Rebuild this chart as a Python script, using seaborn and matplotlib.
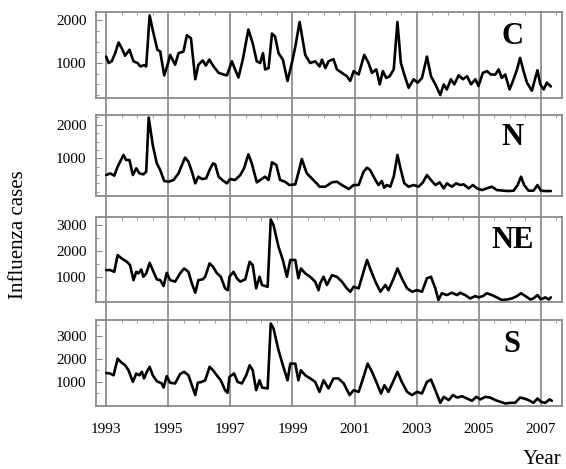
import matplotlib.pyplot as plt
import matplotlib.transforms as mtransforms
from matplotlib.lines import Line2D
from matplotlib.ticker import MultipleLocator
import pandas as pd
import seaborn as sns

# values (decimal year, cases)
c_year = [1993.00, 1993.08, 1993.18, 1993.29, 1993.40, 1993.50, 1993.61, 1993.75, 1993.88, 1994.01,
          1994.10, 1994.22, 1994.29, 1994.40, 1994.50, 1994.65, 1994.74, 1994.87, 1994.98, 1995.06,
          1995.22, 1995.33, 1995.49, 1995.60, 1995.73, 1995.87, 1995.97, 1996.11, 1996.21, 1996.32,
          1996.46, 1996.62, 1996.78, 1996.89, 1997.05, 1997.15, 1997.26, 1997.40, 1997.58, 1997.72,
          1997.85, 1997.96, 1998.05, 1998.12, 1998.23, 1998.34, 1998.44, 1998.55, 1998.69, 1998.84,
          1998.98, 1999.09, 1999.23, 1999.41, 1999.57, 1999.73, 1999.87,
          1999.95, 2000.06, 2000.16, 2000.32, 2000.43, 2000.59, 2000.75, 2000.86, 2000.97, 2001.13,
          2001.31, 2001.45, 2001.56, 2001.70, 2001.81, 2001.91, 2002.02, 2002.13, 2002.26, 2002.38,
          2002.49, 2002.60, 2002.74, 2002.90, 2003.03, 2003.17, 2003.33, 2003.46, 2003.60, 2003.76,
          2003.87, 2003.97, 2004.10, 2004.21, 2004.35, 2004.49, 2004.62, 2004.75, 2004.89, 2004.99,
          2005.13, 2005.26, 2005.39, 2005.53, 2005.64, 2005.74, 2005.85, 2005.99, 2006.12, 2006.23,
          2006.33, 2006.44, 2006.55, 2006.71, 2006.82, 2006.89, 2006.98, 2007.09, 2007.19, 2007.32]
c_cases = [1150, 1000, 1040, 1230, 1480, 1350, 1170, 1310, 1040, 1000,
           920, 950, 920, 2115, 1770, 1310, 1270, 710, 960, 1190,
           960, 1230, 1270, 1650, 1580, 620, 960, 1060, 940, 1080,
           920, 770, 730, 710, 1040, 850, 660, 1080, 1785, 1460,
           1040, 1000, 1230, 850, 880, 1690, 1620, 1230, 1080, 580,
           1000, 1380, 1960, 1190, 1000, 1040, 920,
           1080, 880, 1040, 1090, 850, 770, 690, 580, 810, 730,
           1190, 1000, 770, 850, 500, 810, 650, 690, 850, 1960,
           1000, 730, 420, 620, 540, 650, 1150, 690, 500, 250,
           500, 380, 620, 500, 710, 620, 690, 500, 620, 460,
           770, 810, 730, 730, 850, 650, 730, 380, 620, 850,
           1120, 810, 540, 350, 650, 830, 500, 380, 540, 450]

n_year = [1993.00, 1993.13, 1993.26, 1993.37, 1993.45, 1993.56, 1993.64, 1993.75, 1993.86, 1993.97,
          1994.07, 1994.20, 1994.29, 1994.37, 1994.50, 1994.63, 1994.74, 1994.87, 1995.01, 1995.17,
          1995.33, 1995.44, 1995.54, 1995.65, 1995.76, 1995.87, 1995.97, 1996.08, 1996.22, 1996.33,
          1996.44, 1996.51, 1996.62, 1996.78, 1996.89, 1996.99, 1997.15, 1997.32, 1997.44, 1997.58,
          1997.69, 1997.85, 1998.01, 1998.12, 1998.23, 1998.34, 1998.48, 1998.60, 1998.76, 1998.90,
          1999.09, 1999.20, 1999.30, 1999.46, 1999.62, 1999.78, 1999.87,
          2000.06, 2000.27, 2000.43, 2000.59, 2000.81, 2000.97, 2001.13, 2001.29, 2001.40, 2001.50,
          2001.67, 2001.77, 2001.88, 2001.95, 2002.04, 2002.15, 2002.26, 2002.38, 2002.49, 2002.60,
          2002.74, 2002.90, 2003.06, 2003.20, 2003.33, 2003.46, 2003.60, 2003.74, 2003.87, 2003.97,
          2004.13, 2004.27, 2004.40, 2004.51, 2004.67, 2004.81, 2004.94, 2005.10, 2005.26, 2005.42,
          2005.58, 2005.80, 2005.96, 2006.12, 2006.25, 2006.36, 2006.46, 2006.60, 2006.76, 2006.89,
          2007.00, 2007.14, 2007.32]
n_cases = [500, 550, 480, 750, 900, 1100, 950, 950, 500, 700,
           550, 520, 600, 2220, 1400, 850, 650, 320, 300, 350,
           550, 800, 1020, 900, 600, 250, 450, 380, 400, 650,
           850, 820, 450, 320, 250, 380, 350, 500, 700, 1120,
           850, 280, 380, 450, 350, 880, 800, 350, 300, 200,
           220, 600, 980, 550, 400, 250, 150,
           150, 280, 300, 200, 80, 200, 200, 600, 720, 650,
           350, 200, 320, 120, 200, 150, 450, 1100, 650, 250,
           150, 200, 150, 280, 500, 350, 200, 280, 100, 250,
           150, 250, 200, 220, 100, 200, 100, 50, 100, 150,
           50, 30, 20, 30, 200, 450, 200, 30, 30, 200,
           30, 20, 20]

ne_year = [1993.00, 1993.13, 1993.26, 1993.37, 1993.50, 1993.67, 1993.77, 1993.88, 1993.97, 1994.04,
           1994.13, 1994.20, 1994.29, 1994.40, 1994.50, 1994.63, 1994.74, 1994.85, 1994.95, 1995.06,
           1995.22, 1995.38, 1995.51, 1995.65, 1995.76, 1995.87, 1995.97, 1996.11, 1996.19, 1996.33,
           1996.44, 1996.56, 1996.69, 1996.83, 1996.92, 1996.97, 1997.10, 1997.21, 1997.32, 1997.48,
           1997.62, 1997.72, 1997.83, 1997.94, 1998.02, 1998.20, 1998.30, 1998.39, 1998.55, 1998.69,
           1998.82, 1998.93, 1999.09, 1999.19, 1999.27, 1999.41, 1999.57, 1999.73, 1999.84,
           1999.89, 2000.00, 2000.11, 2000.27, 2000.43, 2000.59, 2000.75, 2000.86, 2000.97, 2001.13,
           2001.24, 2001.40, 2001.50, 2001.67, 2001.83, 2001.99, 2002.09, 2002.26, 2002.38, 2002.52,
           2002.69, 2002.85, 2003.01, 2003.17, 2003.33, 2003.46, 2003.60, 2003.70, 2003.81, 2003.97,
           2004.13, 2004.30, 2004.40, 2004.56, 2004.72, 2004.89, 2004.99, 2005.13, 2005.26, 2005.42,
           2005.58, 2005.74, 2005.91, 2006.07, 2006.23, 2006.36, 2006.50, 2006.66, 2006.76, 2006.89,
           2007.00, 2007.14, 2007.25, 2007.32]
ne_cases = [1260, 1260, 1190, 1840, 1710, 1580, 1450, 870, 1190, 1130,
            1280, 1000, 1130, 1540, 1260, 900, 870, 640, 1150, 870,
            810, 1130, 1320, 1190, 740, 380, 870, 900, 1000, 1520,
            1390, 1150, 1000, 550, 480, 1000, 1190, 940, 810, 900,
            1580, 1450, 550, 1000, 680, 610, 3220, 3000, 2160, 1650,
            1000, 1650, 1650, 940, 1320, 1130, 1000, 810, 480,
            740, 1000, 680, 1060, 1000, 810, 550, 420, 610, 550,
            1000, 1650, 1320, 810, 420, 680, 480, 940, 1320, 940,
            550, 420, 480, 420, 940, 1000, 550, 100, 360, 290,
            380, 290, 380, 290, 160, 250, 200, 250, 360, 290,
            200, 100, 120, 160, 250, 360, 250, 120, 160, 290,
            120, 200, 120, 200]

s_year = [1993.00, 1993.13, 1993.24, 1993.37, 1993.47, 1993.61, 1993.72, 1993.86, 1993.97, 1994.07,
          1994.15, 1994.22, 1994.31, 1994.40, 1994.50, 1994.63, 1994.79, 1994.85, 1994.95, 1995.06,
          1995.22, 1995.38, 1995.51, 1995.65, 1995.76, 1995.87, 1995.95, 1996.08, 1996.19, 1996.33,
          1996.44, 1996.56, 1996.69, 1996.83, 1996.91, 1996.97, 1997.12, 1997.23, 1997.37, 1997.51,
          1997.62, 1997.72, 1997.83, 1997.94, 1998.02, 1998.20, 1998.30, 1998.39, 1998.55, 1998.69,
          1998.84, 1998.93, 1999.09, 1999.19, 1999.27, 1999.41, 1999.57, 1999.73, 1999.87,
          2000.00, 2000.16, 2000.32, 2000.48, 2000.65, 2000.84, 2000.97, 2001.13, 2001.29, 2001.42,
          2001.56, 2001.72, 2001.85, 2001.96, 2002.09, 2002.26, 2002.38, 2002.52, 2002.69, 2002.85,
          2003.01, 2003.17, 2003.33, 2003.46, 2003.60, 2003.76, 2003.87, 2004.03, 2004.17, 2004.30,
          2004.46, 2004.62, 2004.78, 2004.92, 2005.05, 2005.21, 2005.37, 2005.53, 2005.69, 2005.85,
          2006.01, 2006.17, 2006.33, 2006.46, 2006.60, 2006.76, 2006.89, 2007.00, 2007.14, 2007.28,
          2007.35]
s_cases = [1390, 1365, 1290, 2020, 1875, 1730, 1510, 1000, 1365, 1290,
           1440, 1150, 1440, 1660, 1290, 1030, 930, 750, 1250, 960,
           930, 1340, 1440, 1290, 850, 420, 960, 1000, 1070, 1660,
           1510, 1290, 1070, 635, 520, 1220, 1365, 1000, 930, 1290,
           1730, 1510, 635, 1070, 750, 710, 3560, 3340, 2390, 1730,
           1070, 1800, 1800, 1070, 1510, 1290, 1150, 1000, 560,
           1070, 710, 1150, 1150, 930, 420, 635, 560, 1220, 1800,
           1440, 930, 490, 850, 560, 1070, 1440, 1000, 560, 420,
           560, 490, 1000, 1100, 635, 80, 340, 200, 420, 310,
           370, 270, 170, 340, 230, 340, 310, 200, 125, 50,
           80, 80, 310, 270, 200, 80, 270, 125, 80, 230,
           170]

regions = ["C", "N", "NE", "S"]
series = {"C": (c_year, c_cases), "N": (n_year, n_cases),
          "NE": (ne_year, ne_cases), "S": (s_year, s_cases)}
y_ticks = {"C": [1000, 2000], "N": [1000, 2000],
           "NE": [1000, 2000, 3000], "S": [1000, 2000, 3000]}
y_lims = {"C": (180, 2190), "N": (-130, 2300), "NE": (20, 3310), "S": (-66, 3700)}
y_minor = {"C": 250, "N": 250, "NE": 500, "S": 500}
year_ticks = [1993, 1995, 1997, 1999, 2001, 2003, 2005, 2007]

sns.set_theme(style="white")
plt.rcParams["font.family"] = ["Liberation Serif", "DejaVu Serif"]
plt.rcParams["text.color"] = "black"
plt.rcParams["xtick.labelcolor"] = "black"
plt.rcParams["ytick.labelcolor"] = "black"

fig = plt.figure(figsize=(5.66, 4.69), dpi=100)
# left, bottom, width, height in figure fraction
boxes = [(0.170, 0.791, 0.823, 0.183), (0.170, 0.582, 0.823, 0.173),
         (0.170, 0.356, 0.823, 0.181), (0.170, 0.134, 0.823, 0.183)]

axes = []
for reg, box in zip(regions, boxes):
    ax = fig.add_axes(box)
    ax.patch.set_visible(False)
    yrs, vals = series[reg]
    df = pd.DataFrame({"year": yrs, "cases": vals})
    sns.lineplot(data=df, x="year", y="cases", ax=ax, color="black",
                 linewidth=1.9, estimator=None, sort=False)
    ax.set_xlim(1992.68, 2007.68)
    ax.set_ylim(*y_lims[reg])
    ax.set_yticks(y_ticks[reg])
    ax.yaxis.set_minor_locator(MultipleLocator(y_minor[reg]))
    ax.set_xticks(year_ticks)
    ax.xaxis.set_minor_locator(MultipleLocator(0.5))
    ax.set_xlabel("")
    ax.set_ylabel("")
    ax.tick_params(axis="y", which="major", direction="in", length=4, width=0.8,
                   color="#888888", labelsize=11, pad=7, left=True, labelcolor="black")
    ax.tick_params(axis="y", which="minor", direction="in", length=2, width=0.6,
                   color="#888888", left=True)
    ax.tick_params(axis="x", which="major", length=0, labelsize=11, pad=12, labelcolor="black")
    ax.tick_params(axis="x", which="minor", direction="in", length=2, width=0.6,
                   color="#888888", top=True, bottom=False)
    if reg != "S":
        ax.tick_params(axis="x", labelbottom=False)
    for sp in ax.spines.values():
        sp.set_color("#8a8a8a")
        sp.set_linewidth(1.3)
    ax.text(0.893, 0.72, reg, transform=ax.transAxes, ha="center", va="center",
            fontsize=22, fontweight="bold", color="black")
    axes.append(ax)

# year lines running through all four panels
trans = mtransforms.blended_transform_factory(axes[-1].transData, fig.transFigure)
y_top = boxes[0][1] + boxes[0][3]
y_bot = boxes[-1][1]
for yr in year_ticks:
    fig.add_artist(Line2D([yr, yr], [y_bot, y_top], transform=trans,
                          color="#7a7a7a", linewidth=1.1, zorder=-1))

fig.text(0.032, 0.5, "Influenza cases", rotation=90, ha="center", va="center",
         fontsize=15, color="black")
fig.text(0.957, 0.02, "Year", ha="center", va="center", fontsize=15, color="black")

fig.savefig("out.png", dpi=100)
